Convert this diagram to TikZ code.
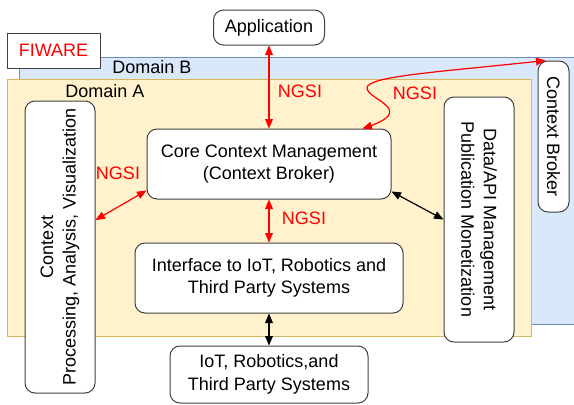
\documentclass[tikz,border=0pt]{standalone}
\usepackage{fontspec}
\setmainfont{Liberation Sans}
\usetikzlibrary{arrows}
\definecolor{domBfill}{HTML}{DAE8FC}
\definecolor{domBline}{HTML}{6C8EBF}
\definecolor{domAfill}{HTML}{FFF2CC}
\definecolor{domAline}{HTML}{D6B656}

\begin{document}
\begin{tikzpicture}[line cap=round,line join=round,>=triangle 45,x=1.0pt,y=-1.0pt,
        font=\fontsize{18}{22.5}\selectfont,
        box/.style={draw=black!75,fill=white,line width=1.pt,rounded corners=10pt,align=center,inner sep=2pt},
        ngsi/.style={red,line width=1.2pt,<->},
        link/.style={black,line width=1.2pt,<->},
        ngsilabel/.style={text=red}]
        \clip(0,0) rectangle (574,405);
        \draw [fill=domBfill,draw=domBline,line width=1.pt] (19,57) rectangle (576,324);
        \draw [fill=domAfill,draw=domAline,line width=1.pt] (7,79) rectangle (531,336);
        \node (domainb) at (152,67) {Domain B};
        \node (domaina) at (105,91) {Domain A};
        \node [draw=black!75,fill=white,line width=1.pt,text=red,minimum width=93pt,minimum height=35pt] (fiware) at (53.5,50.5) {FIWARE};
        \node [box,minimum width=111pt,minimum height=35pt] (app) at (269,27.5) {Application};
        \node [box,rotate=-90,minimum width=151pt,minimum height=31pt] (broker) at (553.5,136.5) {Context Broker};
        \node [box,minimum width=244pt,minimum height=70pt] (core) at (269,164) {Core Context Management\\(Context Broker)};
        \node [box,rotate=90,minimum width=292pt,minimum height=70pt] (ctxproc) at (60,247) {Context\\Processing, Analysis, Visualization};
        \node [box,rotate=-90,minimum width=245pt,minimum height=70pt] (dataapi) at (479,219.5) {Data/API Management\\Publication Monetization};
        \node [box,minimum width=268pt,minimum height=70pt] (iface) at (269,278) {Interface to IoT, Robotics and\\Third Party Systems};
        \node [box,minimum width=198pt,minimum height=57pt] (iot) at (269,374.5) {IoT, Robotics,and\\Third Party Systems};
        \coordinate (bend) at (367,88);
        \draw [ngsi] (app.south) -- (core.north);
        \draw [ngsi] ([xshift=-29pt]core.north east) .. controls (420,110) and (367,100) .. (bend) .. controls (367,76) and (440,72) .. ([xshift=8pt]broker.south west);
        \draw [ngsi] ([yshift=27pt]ctxproc.south) -- ([yshift=9pt]core.south west);
        \draw [ngsi] (core.south) -- (iface.north);
        \draw [link] ([yshift=8pt]core.south east) -- (dataapi.south);
        \draw [link] (iface.south) -- (iot.north);
        \node [ngsilabel] (ngsia) at (300,91) {NGSI};
        \node [ngsilabel] (ngsib) at (415,93) {NGSI};
        \node [ngsilabel] (ngsic) at (118,173) {NGSI};
        \node [ngsilabel] (ngsid) at (304,218) {NGSI};
\end{tikzpicture}
\end{document}
